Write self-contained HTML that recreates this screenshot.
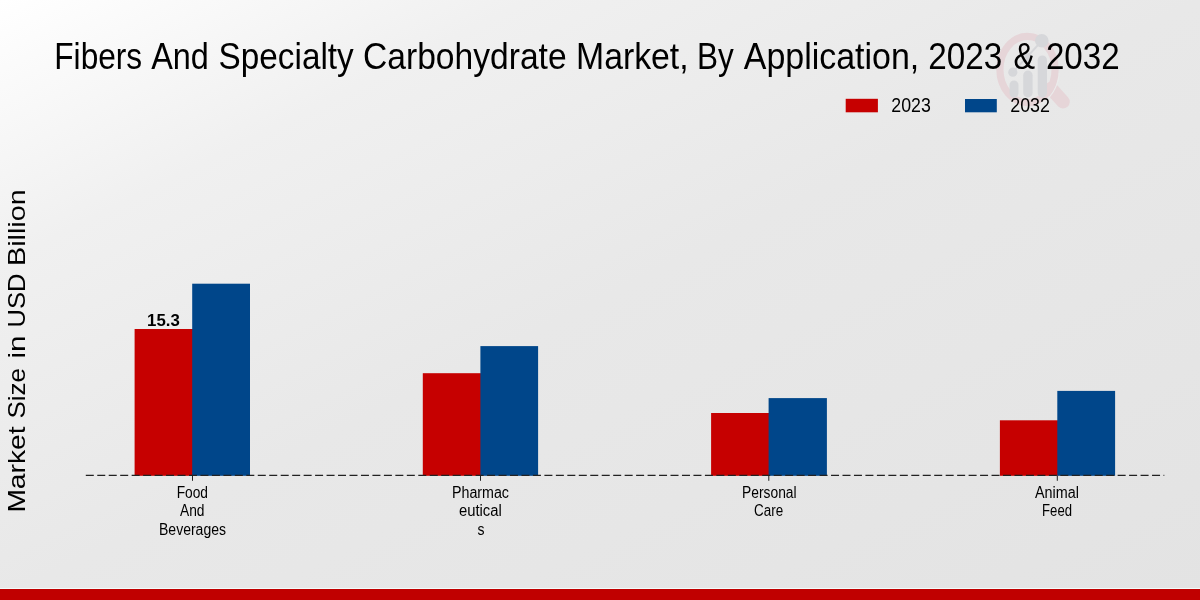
<!DOCTYPE html>
<html>
<head>
<meta charset="utf-8">
<style>
html,body{margin:0;padding:0;width:1200px;height:600px;overflow:hidden;}
body{background:linear-gradient(to bottom right,#ffffff 0%,#f0f0f0 22%,#e8e8e8 50%,#e3e3e3 100%);font-family:"Liberation Sans",sans-serif;}
svg{position:absolute;left:0;top:0;will-change:transform;}
text{font-family:"Liberation Sans",sans-serif;fill:#000;}
</style>
</head>
<body>
<svg width="1200" height="600" viewBox="0 0 1200 600">
  <!-- watermark -->
  <g opacity="1">
    <line x1="1051" y1="88.5" x2="1063" y2="101.8" stroke="#e6d5d8" stroke-width="13.5" stroke-linecap="round"/>
    <path d="M1059.2 72.8 A31.8 37.8 0 0 1 1038.4 105" fill="none" stroke="#ebebeb" stroke-width="1.3"/>
    <ellipse cx="1027.5" cy="69.5" rx="27.6" ry="33.1" fill="none" stroke="#e6d5d8" stroke-width="7.2"/>
    <rect x="1009.5" y="80.5" width="9" height="17" rx="4.5" fill="#d6d7da"/>
    <rect x="1023.2" y="70.5" width="9.4" height="27" rx="4.7" fill="#d6d7da"/>
    <rect x="1037.7" y="55.5" width="9.3" height="42" rx="4.65" fill="#d6d7da"/>
    <circle cx="1012.8" cy="72.2" r="4.6" fill="#d6d7da"/>
    <circle cx="1026.8" cy="57.3" r="4.6" fill="#d6d7da"/>
    <circle cx="1041.8" cy="40.8" r="6.8" fill="#d6d7da"/>
    <polyline points="1012.8,72.2 1026.8,57.3 1041.8,40.8" fill="none" stroke="#d6d7da" stroke-width="2"/>
  </g>

    <!-- legend -->
  <rect x="845.7" y="98.8" width="32.2" height="13.5" fill="#c60000"/>
  <rect x="965" y="99" width="31.8" height="13.3" fill="#00468a"/>

  <!-- bars -->
  <rect x="134.6" y="329" width="58.6" height="146.8" fill="#c60000"/>
  <rect x="192.2" y="283.7" width="57.8" height="192.1" fill="#00468a"/>
  <rect x="422.8" y="373.2" width="58.6" height="102.6" fill="#c60000"/>
  <rect x="480.4" y="346.1" width="57.7" height="129.7" fill="#00468a"/>
  <rect x="711.1" y="413" width="58.5" height="62.8" fill="#c60000"/>
  <rect x="768.6" y="398.1" width="58.3" height="77.7" fill="#00468a"/>
  <rect x="999.9" y="420.3" width="58.4" height="55.5" fill="#c60000"/>
  <rect x="1057.3" y="390.9" width="57.8" height="84.9" fill="#00468a"/>

  <!-- baseline dashed -->
  <line x1="85.8" y1="475.3" x2="1164.3" y2="475.3" stroke="#222" stroke-width="1.3" stroke-dasharray="8.0 3.465"/>
  <!-- ticks -->
  <g stroke="#222" stroke-width="1">
    <line x1="192.5" y1="475.8" x2="192.5" y2="480.8"/>
    <line x1="480.5" y1="475.8" x2="480.5" y2="480.8"/>
    <line x1="768.8" y1="475.8" x2="768.8" y2="480.8"/>
    <line x1="1057.3" y1="475.8" x2="1057.3" y2="480.8"/>
  </g>

  <text x="54.30" y="69" font-size="37" textLength="87.90" lengthAdjust="spacingAndGlyphs">Fibers</text>
  <text x="151.20" y="69" font-size="37" textLength="57.70" lengthAdjust="spacingAndGlyphs">And</text>
  <text x="218.60" y="69" font-size="37" textLength="135.10" lengthAdjust="spacingAndGlyphs">Specialty</text>
  <text x="363.00" y="69" font-size="37" textLength="203.60" lengthAdjust="spacingAndGlyphs">Carbohydrate</text>
  <text x="576.00" y="69" font-size="37" textLength="112.60" lengthAdjust="spacingAndGlyphs">Market,</text>
  <text x="697.00" y="69" font-size="37" textLength="36.75" lengthAdjust="spacingAndGlyphs">By</text>
  <text x="743.75" y="69" font-size="37" textLength="175.55" lengthAdjust="spacingAndGlyphs">Application,</text>
  <text x="928.20" y="69" font-size="37" textLength="74.00" lengthAdjust="spacingAndGlyphs">2023</text>
  <text x="1013.40" y="69" font-size="37" textLength="21.60" lengthAdjust="spacingAndGlyphs">&amp;</text>
  <text x="1045.90" y="69" font-size="37" textLength="73.70" lengthAdjust="spacingAndGlyphs">2032</text>
  <text transform="translate(24.70,512.60) rotate(-90)" x="0.00" y="0" font-size="23.8" textLength="86.10" lengthAdjust="spacingAndGlyphs">Market</text>
  <text transform="translate(24.70,418.50) rotate(-90)" x="0.00" y="0" font-size="23.8" textLength="50.50" lengthAdjust="spacingAndGlyphs">Size</text>
  <text transform="translate(24.70,358.50) rotate(-90)" x="0.00" y="0" font-size="23.8" textLength="23.00" lengthAdjust="spacingAndGlyphs">in</text>
  <text transform="translate(24.70,327.50) rotate(-90)" x="0.00" y="0" font-size="23.8" textLength="54.00" lengthAdjust="spacingAndGlyphs">USD</text>
  <text transform="translate(24.70,266.00) rotate(-90)" x="0.00" y="0" font-size="23.8" textLength="76.70" lengthAdjust="spacingAndGlyphs">Billion</text>
  <text x="891.30" y="112.3" font-size="21" textLength="39.50" lengthAdjust="spacingAndGlyphs">2023</text>
  <text x="1010.20" y="112.4" font-size="21" textLength="39.80" lengthAdjust="spacingAndGlyphs">2032</text>
  <text x="147.10" y="325.9" font-size="17" font-weight="bold" textLength="32.70" lengthAdjust="spacingAndGlyphs">15.3</text>
  <text x="176.70" y="497.5" font-size="16" textLength="31.30" lengthAdjust="spacingAndGlyphs">Food</text>
  <text x="180.00" y="516.2" font-size="16" textLength="24.50" lengthAdjust="spacingAndGlyphs">And</text>
  <text x="159.00" y="534.5" font-size="16" textLength="67.00" lengthAdjust="spacingAndGlyphs">Beverages</text>
  <text x="452.00" y="497.5" font-size="16" textLength="57.00" lengthAdjust="spacingAndGlyphs">Pharmac</text>
  <text x="459.00" y="516.2" font-size="16" textLength="42.80" lengthAdjust="spacingAndGlyphs">eutical</text>
  <text x="477.50" y="534.5" font-size="16" textLength="7.00" lengthAdjust="spacingAndGlyphs">s</text>
  <text x="742.10" y="497.5" font-size="16" textLength="54.50" lengthAdjust="spacingAndGlyphs">Personal</text>
  <text x="754.00" y="516.2" font-size="16" textLength="29.10" lengthAdjust="spacingAndGlyphs">Care</text>
  <text x="1035.00" y="497.5" font-size="16" textLength="43.90" lengthAdjust="spacingAndGlyphs">Animal</text>
  <text x="1042.10" y="516.2" font-size="16" textLength="29.90" lengthAdjust="spacingAndGlyphs">Feed</text>

  <!-- bottom strip -->
  <rect x="0" y="588" width="1200" height="1" fill="#f3fbfb"/>
  <rect x="0" y="589" width="1200" height="11" fill="#c00000"/>
</svg>
</body>
</html>
